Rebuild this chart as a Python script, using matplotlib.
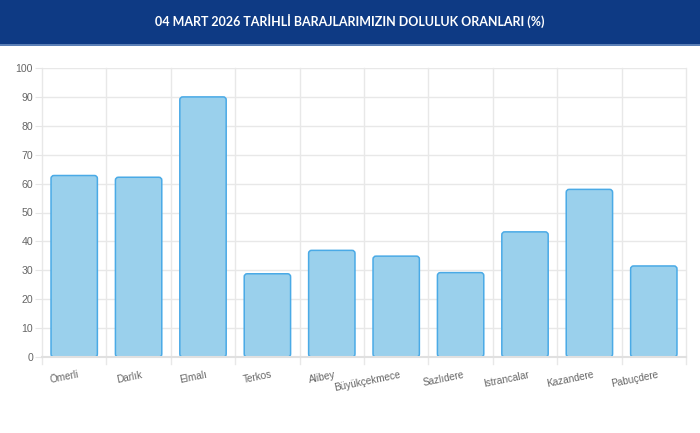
import matplotlib
matplotlib.use("Agg")
import matplotlib.pyplot as plt
from matplotlib.patches import FancyBboxPatch, Rectangle
import numpy as np

title = "04 MART 2026 TARİHLİ BARAJLARIMIZIN DOLULUK ORANLARI (%)"
categories = ["Ömerli", "Darlık", "Elmalı", "Terkos", "Alibey", "Büyükçekmece",
              "Sazlıdere", "Istrancalar", "Kazandere", "Pabuçdere"]
values = [62.8, 62.2, 90.0, 28.8, 36.9, 34.9, 29.2, 43.3, 58.0, 31.5]
yticks = [0, 10, 20, 30, 40, 50, 60, 70, 80, 90, 100]

W, H = 700, 433
fig = plt.figure(figsize=(W / 100, H / 100), dpi=100)
fig.patch.set_facecolor("white")

# header band
fig.patches.append(Rectangle((0, 1 - 44 / H), 1, 44 / H, transform=fig.transFigure,
                             facecolor="#0e3a84", edgecolor="none", zorder=0))
fig.patches.append(Rectangle((0, 1 - 45.5 / H), 1, 1.5 / H, transform=fig.transFigure,
                             facecolor="#5b7fb6", edgecolor="none", zorder=0))
fig.text(0.5, 1 - 21 / H, title, color="white", ha="center", va="center",
         fontsize=9, fontweight="bold", family=["Lato", "DejaVu Sans"])

x0, x1 = 42, 686
y0, y1 = 357, 68
ax = fig.add_axes([x0 / W, 1 - y0 / H, (x1 - x0) / W, (y0 - y1) / H])
n = len(categories)
ax.set_xlim(-0.5, n - 0.5)
ax.set_ylim(0, 100)

for s in ["top", "right", "left"]:
    ax.spines[s].set_visible(False)
ax.spines["bottom"].set_color("#e0e0e0")
ax.spines["bottom"].set_linewidth(1.5)

ax.set_yticks(yticks)
ax.set_yticklabels([str(v) for v in yticks], family=["Liberation Sans", "DejaVu Sans"])
ax.set_xticks(np.arange(n))
ax.set_xticklabels(categories, rotation=11.5, ha="right", rotation_mode="anchor",
                   family=["Liberation Sans", "DejaVu Sans"])
ax.tick_params(axis="y", length=5, color="#e6e6e6", labelcolor="#666666",
               labelsize=7.6, pad=1.5)
ax.tick_params(axis="x", length=0, labelcolor="#666666", labelsize=7.2, pad=9)
for t in ax.get_xticklabels():
    t.set_x(t.get_position()[0])

# grid lines (chart.js offset style)
for v in yticks:
    ax.axhline(v, color="#e8e8e8", lw=1, zorder=0)
for b in np.arange(-0.5, n, 1.0):
    ax.plot([b, b], [-2.5, 100], color="#e8e8e8", lw=1, zorder=0, clip_on=False)

bars = ax.bar(np.arange(n), values, width=0.72, color="none", edgecolor="none")
px_x = (x1 - x0) / n
px_y = (y0 - y1) / 100
r = 3.0 / px_x
for b in bars:
    bx, by = b.get_x(), b.get_y()
    bw, bh = b.get_width(), b.get_height()
    p = FancyBboxPatch((bx, by), bw, bh,
                       boxstyle=f"round,pad=0,rounding_size={r}",
                       mutation_aspect=px_x / px_y,
                       facecolor="#9ad0ec", edgecolor="#4aaae6", lw=1.1, zorder=2)
    ax.add_patch(p)

# shift x labels slightly right of the category centre, as in the reference
from matplotlib.transforms import ScaledTranslation
off = ScaledTranslation(3 / 100, 0, fig.dpi_scale_trans)
for t in ax.get_xticklabels():
    t.set_transform(t.get_transform() + off)

fig.savefig("out.png", dpi=100)
